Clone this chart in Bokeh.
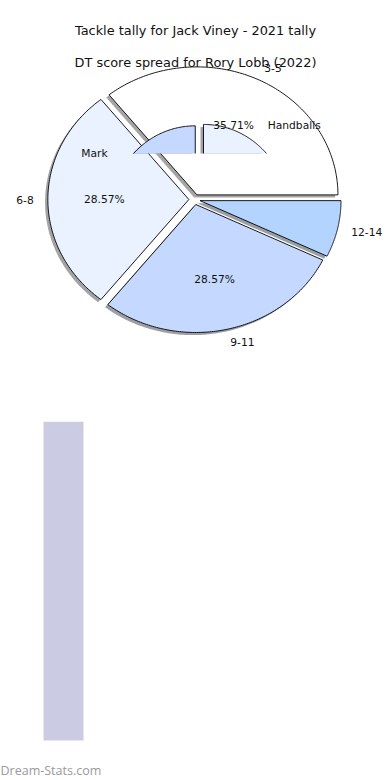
import numpy as np
from bokeh.plotting import figure
from bokeh.models import Range1d, Label, ColumnDataSource
from bokeh.layouts import column
from bokeh.embed import file_html
from bokeh.resources import INLINE
from bokeh.core.properties import value

# ---------------- data ----------------
main_title = "DT score spread for Rory Lobb (2022)"
score_ranges = ["3-5", "6-8", "9-11", "12-14"]
score_games = [5, 4, 4, 1]
score_colors = ["#ffffff", "#eaf1ff", "#c5d8ff", "#b3d4ff"]

tackle_title = "Tackle tally for Jack Viney - 2021 tally"
tackle_types = ["Mark", "Kicks", "Handballs"]
tackle_counts = [6, 9, 4]
tackle_colors = ["#c5d8ff", "#ffffff", "#eaf1ff"]

bar_names = ["Total"]
bar_values = [19]
bar_color = "#cbcce3"
watermark = "Dream-Stats.com"

# ---------------- layout / style ----------------
W, H1, H2 = 390, 380, 400
FONT = "DejaVu Sans"
MAIN = dict(cx=194.0, cy=199.0, rx=141.0, ry=128.0, explode=0.04, start=0.0,
            shadow=(-2.8, 2.6), labeldist=1.1, pctdist=0.6, clip=None)
SMALL = dict(cx=199.5, cy=214.5, rx=84.0, ry=86.0, explode=0.0675, start=90.0,
             shadow=(-3.0, 2.5), labeldist=1.245, pctdist=None, clip=153.0)


def pie_geometry(vals, start_deg):
    fr = np.asarray(vals, float) / float(np.sum(vals))
    cum = np.concatenate([[0.0], np.cumsum(fr)])
    a0 = np.radians(start_deg + 360.0 * cum[:-1])
    a1 = np.radians(start_deg + 360.0 * cum[1:])
    return fr, a0, a1


def wedge_path(cx, cy, rx, ry, a0, a1, n=120):
    t = np.linspace(a0, a1, n)
    xs = np.concatenate([[cx], cx + rx * np.cos(t), [cx]])
    ys = np.concatenate([[cy], cy - ry * np.sin(t), [cy]])
    return xs, ys


def clip_polygon(xs, ys, ymax):
    if ymax is None:
        return list(xs), list(ys)
    ox, oy = [], []
    n = len(xs)
    for i in range(n):
        x1, y1 = xs[i], ys[i]
        x2, y2 = xs[(i + 1) % n], ys[(i + 1) % n]
        in1, in2 = y1 <= ymax, y2 <= ymax
        if in1:
            ox.append(x1); oy.append(y1)
        if in1 != in2:
            t = (ymax - y1) / (y2 - y1)
            ox.append(x1 + t * (x2 - x1)); oy.append(ymax)
    return ox, oy


def clip_polyline(xs, ys, ymax):
    if ymax is None:
        return [(list(xs), list(ys))]
    segs, cx_, cy_ = [], [], []
    for i in range(len(xs) - 1):
        x1, y1, x2, y2 = xs[i], ys[i], xs[i + 1], ys[i + 1]
        in1, in2 = y1 <= ymax, y2 <= ymax
        if in1 and in2:
            if not cx_:
                cx_, cy_ = [x1], [y1]
            cx_.append(x2); cy_.append(y2)
        elif in1 and not in2:
            t = (ymax - y1) / (y2 - y1)
            if not cx_:
                cx_, cy_ = [x1], [y1]
            cx_.append(x1 + t * (x2 - x1)); cy_.append(ymax)
            segs.append((cx_, cy_)); cx_, cy_ = [], []
        elif (not in1) and in2:
            t = (ymax - y1) / (y2 - y1)
            cx_, cy_ = [x1 + t * (x2 - x1), x2], [ymax, y2]
    if len(cx_) > 1:
        segs.append((cx_, cy_))
    return segs


def shade(hexcol):
    h = hexcol.lstrip("#")
    r, g, b = (int(h[i:i + 2], 16) * 0.3 for i in (0, 2, 4))
    return "#%02x%02x%02x" % (int(r), int(g), int(b))


def draw_pie(p, labels, vals, colors, g, show_pct):
    fr, a0, a1 = pie_geometry(vals, g["start"])
    sh = dict(xs=[], ys=[], c=[])
    fill = dict(xs=[], ys=[], c=[])
    lines = dict(xs=[], ys=[])
    txt = dict(x=[], y=[], t=[], align=[])
    pct = dict(x=[], y=[], t=[])
    for i in range(len(vals)):
        mid = 0.5 * (a0[i] + a1[i])
        wcx = g["cx"] + g["explode"] * g["rx"] * np.cos(mid)
        wcy = g["cy"] - g["explode"] * g["ry"] * np.sin(mid)
        xs, ys = wedge_path(wcx, wcy, g["rx"], g["ry"], a0[i], a1[i])
        sx, sy = clip_polygon(xs + g["shadow"][0], ys + g["shadow"][1], g["clip"])
        if len(sx) > 2:
            sh["xs"].append(sx); sh["ys"].append(sy); sh["c"].append(shade(colors[i]))
        fx, fy = clip_polygon(xs, ys, g["clip"])
        if len(fx) > 2:
            fill["xs"].append(fx); fill["ys"].append(fy); fill["c"].append(colors[i])
        for lx, ly in clip_polyline(xs, ys, g["clip"]):
            lines["xs"].append(lx); lines["ys"].append(ly)
        tx = wcx + g["labeldist"] * g["rx"] * np.cos(mid)
        ty = wcy - g["labeldist"] * g["ry"] * np.sin(mid)
        if g["clip"] is None or ty <= g["clip"]:
            txt["x"].append(tx); txt["y"].append(ty); txt["t"].append(labels[i])
            txt["align"].append("left" if np.cos(mid) >= 0 else "right")
        if show_pct and g["pctdist"] is not None and fr[i] >= 0.1:
            pct["x"].append(wcx + g["pctdist"] * g["rx"] * np.cos(mid))
            pct["y"].append(wcy - g["pctdist"] * g["ry"] * np.sin(mid))
            pct["t"].append("%.2f%%" % (100 * fr[i]))
    p.patches("xs", "ys", source=ColumnDataSource(sh), fill_color="c",
              fill_alpha=0.5, line_color=None)
    p.patches("xs", "ys", source=ColumnDataSource(fill), fill_color="c",
              line_color=None if g["clip"] is not None else "black",
              line_width=0.9)
    if g["clip"] is not None:
        p.multi_line("xs", "ys", source=ColumnDataSource(lines),
                     line_color="black", line_width=0.9)
    return txt, pct


p1 = figure(width=W, height=H1, x_range=Range1d(0, W), y_range=Range1d(H1, 0),
            x_axis_location=None, y_axis_location=None, min_border=0,
            toolbar_location=None, output_backend="svg")
p1.grid.visible = False
p1.outline_line_color = None
p1.background_fill_color = "white"
p1.border_fill_color = "white"

t_main, pct_main = draw_pie(p1, score_ranges, score_games, score_colors, MAIN, True)
t_small, _ = draw_pie(p1, tackle_types, tackle_counts, tackle_colors, SMALL, False)

lab = dict(x=t_main["x"] + t_small["x"], y=t_main["y"] + t_small["y"],
           t=t_main["t"] + t_small["t"], align=t_main["align"] + t_small["align"])
p1.text("x", "y", text="t", text_align="align", source=ColumnDataSource(lab),
        text_baseline="middle", text_font=value(FONT), text_font_size="10.7px",
        text_color="#111111")
p1.text("x", "y", text="t", source=ColumnDataSource(pct_main), text_align="center",
        text_baseline="middle", text_font=value(FONT), text_font_size="10.7px",
        text_color="#111111")
titles = dict(x=[195, 195], y=[30, 61.5], t=[tackle_title, main_title])
p1.text("x", "y", text="t", source=ColumnDataSource(titles), text_align="center",
        text_baseline="middle", text_font=value(FONT), text_font_size="12.9px",
        text_color="#111111")

# bar panel: frame runs to the canvas bottom; the bar's base sits 40px above it
TOP_PAD, BASE_PAD = 41, 40
bar_px = H2 - TOP_PAD - BASE_PAD
vmax = max(bar_values)
p2 = figure(width=W, height=H2, x_range=Range1d(-1.575, 8.175),
            y_range=Range1d(-BASE_PAD * vmax / bar_px, vmax),
            x_axis_location=None, y_axis_location=None,
            min_border_left=0, min_border_right=0, min_border_top=TOP_PAD,
            min_border_bottom=0, toolbar_location=None, output_backend="svg")
p2.grid.visible = False
p2.outline_line_color = None
p2.vbar(x=list(range(len(bar_names))), bottom=0, top=bar_values, width=1.0,
        fill_color=bar_color, line_color=None)
p2.add_layout(Label(x=0, y=10, x_units="screen", y_units="screen", text=watermark,
                    text_font="Open Sans", text_font_size="12.5px",
                    text_color="#9a9a9a", text_baseline="middle"))

layout = column(p1, p2, spacing=0)
open("out.html", "w").write(file_html(layout, INLINE))
